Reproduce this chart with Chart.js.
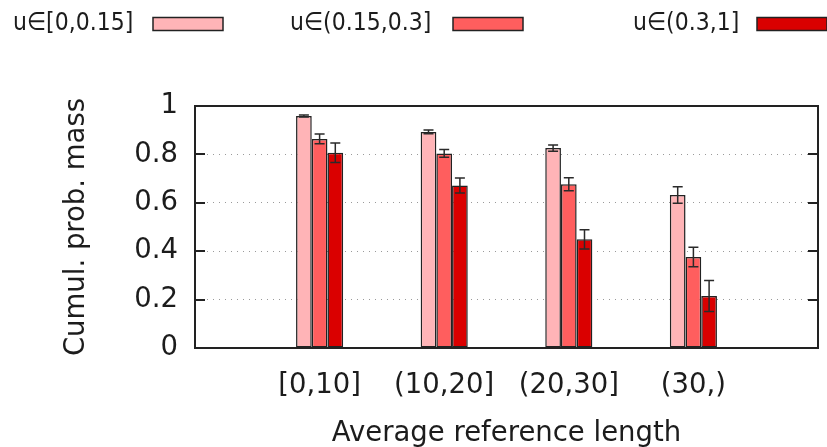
<!DOCTYPE html>
<html>
<head>
<meta charset="utf-8">
<script src="https://cdn.jsdelivr.net/npm/chart.js@4/dist/chart.umd.min.js"></script>
<style>
  html, body { margin: 0; padding: 0; background: #fff; }
  #wrap { width: 827px; height: 447px; }
</style>
</head>
<body>
<div id="wrap"><canvas id="c" width="827" height="447"></canvas></div>
<script>
// Length buckets along the x axis
const categories = ['[0,10]', '(10,20]', '(20,30]', '(30,)'];
// Series names (uncertainty ranges)
const seriesNames = ['u\u2208[0,0.15]', 'u\u2208(0.15,0.3]', 'u\u2208(0.3,1]'];
// Cumulative probability mass per bucket, one array per series
const lowU  = [0.959, 0.893, 0.826, 0.632];
const midU  = [0.864, 0.804, 0.677, 0.376];
const highU = [0.807, 0.671, 0.449, 0.215];
// Error bar half-widths, same order
const lowErr  = [0.004, 0.008, 0.013, 0.034];
const midErr  = [0.020, 0.016, 0.027, 0.040];
const highErr = [0.040, 0.031, 0.040, 0.064];
// Y tick values
const yTicks = [0, 0.2, 0.4, 0.6, 0.8, 1];

const colors = ['#FFB4B7', '#FF5E5E', '#DA0000'];
const FONT = 'DejaVu Sans';
const INK = '#1c1c1c';

// pad the category axis with an empty slot on each side
const labels = [''].concat(categories, ['']);
const pad = arr => [null].concat(arr, [null]);
const values = [lowU, midU, highU];
const errors = [lowErr, midErr, highErr];

const datasets = values.map((v, i) => ({
  label: seriesNames[i],
  data: pad(v),
  errors: pad(errors[i]),
  backgroundColor: colors[i],
  borderColor: '#222',
  borderWidth: 1.5,
  borderSkipped: false,
  categoryPercentage: 0.378,
  barPercentage: 1.0
}));

// error bars drawn on top of each bar
const errorBars = {
  id: 'errorBars',
  afterDatasetsDraw(chart) {
    const ctx = chart.ctx;
    const y = chart.scales.y;
    ctx.save();
    ctx.strokeStyle = '#2a2a2a';
    ctx.lineWidth = 1.5;
    chart.data.datasets.forEach((ds, di) => {
      const meta = chart.getDatasetMeta(di);
      meta.data.forEach((bar, idx) => {
        const v = ds.data[idx], e = ds.errors[idx];
        if (v == null || e == null) return;
        const x = bar.x;
        const yt = y.getPixelForValue(v + e);
        const yb = y.getPixelForValue(v - e);
        const cap = 5;
        ctx.beginPath();
        ctx.moveTo(x, yt); ctx.lineTo(x, yb);
        ctx.moveTo(x - cap, yt); ctx.lineTo(x + cap, yt);
        ctx.moveTo(x - cap, yb); ctx.lineTo(x + cap, yb);
        ctx.stroke();
      });
    });
    ctx.restore();
  }
};

// frame with inward ticks on both vertical sides, and the legend row
const frameAndLegend = {
  id: 'frameAndLegend',
  afterDraw(chart) {
    const ctx = chart.ctx;
    const a = chart.chartArea;
    const y = chart.scales.y;
    ctx.save();
    ctx.strokeStyle = '#222';
    ctx.lineWidth = 2;
    ctx.strokeRect(a.left, a.top, a.right - a.left, a.bottom - a.top);
    ctx.beginPath();
    yTicks.forEach(t => {
      const py = Math.round(y.getPixelForValue(t));
      ctx.moveTo(a.left, py); ctx.lineTo(a.left + 10, py);
      ctx.moveTo(a.right, py); ctx.lineTo(a.right - 10, py);
    });
    ctx.stroke();

    // legend: text followed by a swatch
    const textX = [13, 290, 633];
    const swX = [153, 453, 757];
    const swW = 70, swTop = 17.5, swH = 13;
    ctx.textBaseline = 'middle';
    ctx.textAlign = 'left';
    chart.data.datasets.forEach((ds, i) => {
      ctx.save();
      ctx.translate(textX[i], 23);
      ctx.scale(0.88, 1);
      ctx.font = '25px "' + FONT + '"';
      ctx.fillStyle = INK;
      ctx.fillText(ds.label, 0, 0);
      ctx.restore();
      ctx.fillStyle = ds.backgroundColor;
      ctx.fillRect(swX[i], swTop, swW, swH);
      ctx.lineWidth = 1.5;
      ctx.strokeStyle = '#222';
      ctx.strokeRect(swX[i], swTop, swW, swH);
    });
    ctx.restore();
  }
};

new Chart(document.getElementById('c'), {
  type: 'bar',
  data: { labels, datasets },
  options: {
    responsive: false,
    animation: false,
    devicePixelRatio: 1,
    layout: { padding: { top: 106, right: 9, bottom: 0, left: 0 } },
    plugins: { legend: { display: false }, tooltip: { enabled: false } },
    scales: {
      x: {
        type: 'category',
        offset: false,
        grid: { display: false, drawTicks: false },
        border: { display: false },
        ticks: {
          color: INK,
          font: { family: FONT, size: 27.5 },
          padding: 21,
          maxRotation: 0,
          autoSkip: false
        },
        title: {
          display: true,
          text: 'Average reference length',
          color: INK,
          font: { family: FONT, size: 27.5, lineHeight: 1 },
          padding: { top: 0, bottom: -1 }
        },
        afterFit(s) {
          s.height = 99;
          s.paddingLeft = 0;
          s.paddingRight = 0;
        }
      },
      y: {
        min: 0,
        max: 1,
        afterBuildTicks(s) { s.ticks = yTicks.map(v => ({ value: v })); },
        grid: {
          drawTicks: false,
          color: '#9a9a9a',
          lineWidth: 1
        },
        border: { display: false, dash: [1, 5] },
        ticks: {
          color: INK,
          font: { family: FONT, size: 27.5 },
          padding: 17,
          callback: v => String(v)
        },
        title: {
          display: true,
          text: 'Cumul. prob. mass',
          color: INK,
          font: { family: FONT, size: 27.5, lineHeight: 1.2 },
          padding: { top: 60, bottom: 0 }
        },
        afterFit(s) { s.width = 195; }
      }
    }
  },
  plugins: [errorBars, frameAndLegend]
});
</script>
</body>
</html>
